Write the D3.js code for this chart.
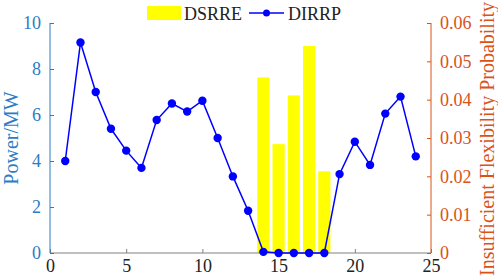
<!DOCTYPE html>
<html>
<head>
<meta charset="utf-8">
<script src="https://cdn.jsdelivr.net/npm/d3@7"></script>
<style>
  body { margin: 0; background: #fff; }
</style>
</head>
<body>
<div id="wrapper"></div>
<script>
// data
const hours = d3.range(1, 25)
const dirrp = [4.0, 9.15, 7.0, 5.4, 4.45, 3.7, 5.78, 6.5, 6.15, 6.62, 5.0, 3.33,
  1.84, 0.05, 0, 0, 0, 0, 3.43, 4.84, 3.83, 6.06, 6.8, 4.2]
const barHours = [14, 15, 16, 17, 18]
const dsrre = [0.0458, 0.0284, 0.0411, 0.054, 0.0213]
const xTicks = [0, 5, 10, 15, 20, 25]
const leftTicks = [0, 2, 4, 6, 8, 10]
const rightTicks = [0, 0.01, 0.02, 0.03, 0.04, 0.05, 0.06]

const width = 498
const height = 279
const margin = { top: 23, right: 67, bottom: 26, left: 50 }
const blueAxis = "#2b7cc4"
const orange = "#d95319"
const serif = "'Liberation Serif', 'Times New Roman', serif"

const svg = d3.select("#wrapper").append("svg")
    .attr("width", width)
    .attr("height", height)
    .style("display", "block")

const x = d3.scaleLinear().domain([0, 25]).range([margin.left, width - margin.right])
const yL = d3.scaleLinear().domain([0, 10]).range([height - margin.bottom, margin.top])
const yR = d3.scaleLinear().domain([0, 0.06]).range([height - margin.bottom, margin.top])

// bars
const barW = (x(1) - x(0)) * 0.8
svg.selectAll(".bar")
  .data(barHours)
  .join("rect")
    .attr("x", d => x(d) - barW / 2)
    .attr("y", (d, i) => yR(dsrre[i]))
    .attr("width", barW)
    .attr("height", (d, i) => yR(0) - yR(dsrre[i]))
    .attr("fill", "#ffff00")

// axes
const tickSize = 4
const xAxis = svg.append("g")
    .attr("transform", `translate(0,${yL(0)})`)
    .call(d3.axisBottom(x).tickValues(xTicks).tickSize(-tickSize).tickPadding(6).tickFormat(d3.format("d")))
    .attr("font-family", serif).attr("font-size", 18)
xAxis.select(".domain").attr("stroke", "#808080").attr("d", `M${x(0)},0H${x(25)}`)
xAxis.selectAll(".tick line").attr("stroke", "#808080")
xAxis.selectAll("text").attr("fill", "#222")

const leftAxis = svg.append("g")
    .attr("transform", `translate(${x(0)},0)`)
    .call(d3.axisLeft(yL).tickValues(leftTicks).tickSize(-tickSize).tickPadding(9))
    .attr("font-family", serif).attr("font-size", 18)
leftAxis.select(".domain").attr("stroke", blueAxis).attr("d", `M0,${yL(0)}V${yL(10)}`)
leftAxis.selectAll(".tick line").attr("stroke", blueAxis)
leftAxis.selectAll("text").attr("fill", blueAxis)

const rightAxis = svg.append("g")
    .attr("transform", `translate(${x(25)},0)`)
    .call(d3.axisRight(yR).tickValues(rightTicks).tickSize(-tickSize).tickPadding(9)
      .tickFormat(d => d === 0 ? "0" : d3.format(".2f")(d)))
    .attr("font-family", serif).attr("font-size", 18)
rightAxis.select(".domain").attr("stroke", orange).attr("d", `M0,${yR(0)}V${yR(0.06)}`)
rightAxis.selectAll(".tick line").attr("stroke", orange)
rightAxis.selectAll("text").attr("fill", orange)

// axis titles
svg.append("text")
    .attr("transform", `translate(18,${(yL(0) + yL(10)) / 2}) rotate(-90)`)
    .attr("text-anchor", "middle")
    .attr("fill", blueAxis)
    .attr("font-family", serif)
    .attr("font-size", 20)
    .text("Power/MW")

svg.append("text")
    .attr("transform", `translate(489,${(yR(0) + yR(0.06)) / 2 + 1}) rotate(-90)`)
    .attr("text-anchor", "middle")
    .attr("dominant-baseline", "middle")
    .attr("fill", orange)
    .attr("font-family", serif)
    .attr("font-size", 20)
    .text("Insufficient Flexibility Probability")

// line
const line = d3.line().x((d, i) => x(hours[i])).y(d => yL(d))
svg.append("path")
    .datum(dirrp)
    .attr("fill", "none")
    .attr("stroke", "#0000ff")
    .attr("stroke-width", 1.5)
    .attr("d", line)

svg.selectAll(".dot")
  .data(dirrp)
  .join("circle")
    .attr("cx", (d, i) => x(hours[i]))
    .attr("cy", d => yL(d))
    .attr("r", 4.2)
    .attr("fill", "#0000ff")

// legend
const legend = svg.append("g")
    .attr("font-family", serif)
    .attr("font-size", 18)
legend.append("rect")
    .attr("x", 147).attr("y", 6)
    .attr("width", 34).attr("height", 14)
    .attr("fill", "#ffff00")
legend.append("text")
    .attr("x", 184).attr("y", 19.5)
    .attr("fill", "#222")
    .text("DSRRE")
legend.append("line")
    .attr("x1", 249).attr("x2", 284)
    .attr("y1", 13).attr("y2", 13)
    .attr("stroke", "#0000ff").attr("stroke-width", 1.5)
legend.append("circle")
    .attr("cx", 266.5).attr("cy", 13).attr("r", 3.5)
    .attr("fill", "#0000ff")
legend.append("text")
    .attr("x", 288).attr("y", 19.5)
    .attr("fill", "#222")
    .text("DIRRP")
</script>
</body>
</html>
